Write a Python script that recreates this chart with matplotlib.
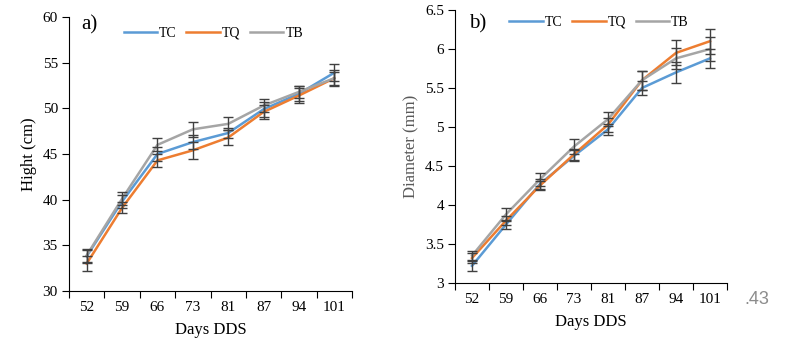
import matplotlib
matplotlib.use("Agg")
import matplotlib.pyplot as plt
import numpy as np

days = ["52", "59", "66", "73", "81", "87", "94", "101"]
series_names = ["TC", "TQ", "TB"]

height_tc = [33.8, 39.8, 45.0, 46.3, 47.3, 49.9, 51.6, 53.9]
height_tq = [33.0, 39.1, 44.3, 45.4, 46.8, 49.6, 51.4, 53.3]
height_tb = [33.9, 40.1, 46.0, 47.7, 48.3, 50.3, 51.8, 53.3]
height_err_tc = [0.7, 0.7, 0.8, 0.8, 0.6, 0.8, 0.8, 0.9]
height_err_tq = [0.8, 0.6, 0.7, 0.9, 0.8, 0.8, 0.8, 0.9]
height_err_tb = [0.7, 0.7, 0.7, 0.8, 0.7, 0.7, 0.7, 0.7]

diam_tc = [3.22, 3.75, 4.27, 4.63, 4.97, 5.50, 5.70, 5.88]
diam_tq = [3.32, 3.80, 4.25, 4.65, 5.03, 5.60, 5.95, 6.10]
diam_tb = [3.35, 3.88, 4.33, 4.75, 5.10, 5.60, 5.88, 6.00]
diam_err_tc = [0.06, 0.06, 0.06, 0.07, 0.07, 0.09, 0.13, 0.12]
diam_err_tq = [0.06, 0.06, 0.06, 0.07, 0.09, 0.12, 0.16, 0.16]
diam_err_tb = [0.06, 0.08, 0.08, 0.09, 0.09, 0.12, 0.13, 0.15]

colors = ["#5B9BD5", "#ED7D31", "#A5A5A5"]
err_color = "#404040"

plt.rcParams["font.family"] = ["Liberation Serif", "DejaVu Serif"]

fig = plt.figure(figsize=(7.98, 3.52), dpi=100)
axa = fig.add_axes([69/798, 1-291/352, (352-69)/798, (291-17)/352])
axb = fig.add_axes([455/798, 1-283/352, (727-455)/798, (283-10)/352])


def draw(ax, data, errs, ylim, yticks, ylabel, ylabel_color, panel, panel_xy, leg_anchor):
    x = np.arange(len(days))
    handles = []
    for vals, e, c, name in zip(data, errs, colors, series_names):
        (h,) = ax.plot(x, vals, color=c, lw=1.8, label=name, zorder=3)
        ax.errorbar(x, vals, yerr=e, fmt="none", ecolor=err_color, elinewidth=1.0,
                    capsize=3.5, capthick=1.0, zorder=4)
        handles.append(h)
    ax.set_xlim(-0.5, len(days) - 0.5)
    ax.set_ylim(*ylim)
    ax.set_yticks(yticks)
    ax.set_yticklabels([f"{t:g}" for t in yticks], fontsize=11)
    ax.set_xticks(np.arange(-0.5, len(days), 1.0))
    ax.set_xticklabels([])
    ax.set_xticks(x, minor=True)
    ax.set_xticklabels(days, minor=True, fontsize=11)
    ax.tick_params(axis="x", which="major", length=5, direction="out", width=0.8)
    ax.tick_params(axis="x", which="minor", length=0, pad=7)
    ax.tick_params(axis="y", length=5, direction="out", width=0.8, pad=3)
    ax.spines["top"].set_visible(False)
    ax.spines["right"].set_visible(False)
    ax.set_xlabel("Days DDS", fontsize=12, labelpad=6)
    ax.set_ylabel(ylabel, fontsize=12, color=ylabel_color)
    ax.text(panel_xy[0], panel_xy[1], panel, transform=ax.transAxes, fontsize=15,
            va="center", ha="left")
    ax.legend(handles=handles, loc="center", bbox_to_anchor=leg_anchor, ncol=3,
              frameon=False, fontsize=10, handlelength=2.4, handletextpad=0.15,
              columnspacing=0.7, borderpad=0.2)


draw(axa, [height_tc, height_tq, height_tb],
     [height_err_tc, height_err_tq, height_err_tb],
     (30, 60), [30, 35, 40, 45, 50, 55, 60], "Hight (cm)", "black", "a)",
     (0.045, 0.97), (0.51, 0.94))

draw(axb, [diam_tc, diam_tq, diam_tb],
     [diam_err_tc, diam_err_tq, diam_err_tb],
     (3, 6.5), [3, 3.5, 4, 4.5, 5, 5.5, 6, 6.5], "Diameter (mm)", "#595959", "b)",
     (0.05, 0.95), (0.53, 0.956))

fig.text(757/798, 1-300/352, ".43", fontsize=13, color="#8C8C8C",
         family=["Liberation Sans", "DejaVu Sans"], ha="center", va="center")

fig.savefig("out.png", dpi=100)
